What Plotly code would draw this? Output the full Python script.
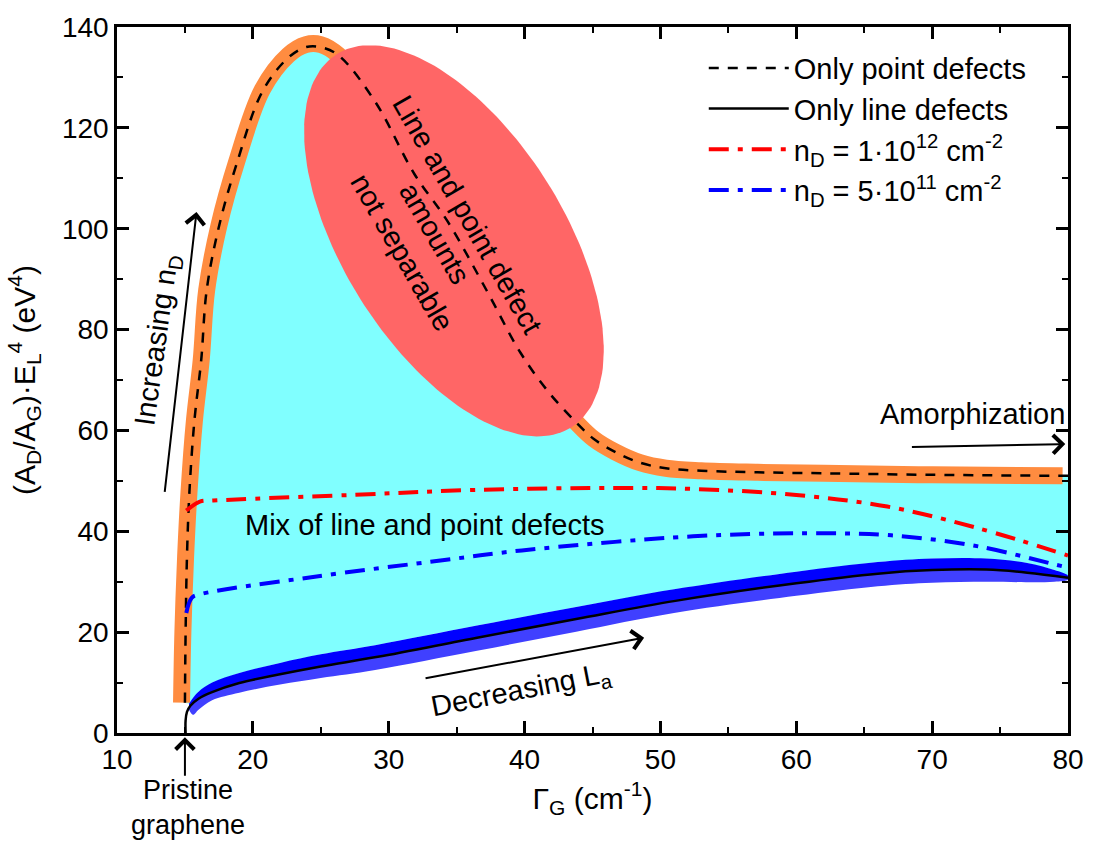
import numpy as np
import plotly.graph_objects as go

# ---------------- data ----------------
# Only point defects (dashed curve)
pt_x = [15.0, 15.05, 15.15, 15.33, 15.7, 16.2, 16.6, 17.5, 18.8, 20.7, 22.6, 23.9, 25.0, 26.3, 29.0,
        31.9, 34.3, 37.2, 39.7, 41.8, 43.8, 45.1, 46.7, 48.5, 50.4, 53.0, 57.0, 62.0, 70.0, 80.0]
pt_y = [6.0, 20.0, 35.0, 47.8, 62.0, 74.0, 87.8, 100.4, 112.8, 127.2, 133.9, 136.0, 136.0, 134.4, 125.2,
        110.8, 101.6, 87.8, 75.4, 67.5, 61.6, 58.3, 55.7, 53.6, 52.5, 52.0, 51.7, 51.5, 51.2, 51.0]

# orange uncertainty band of the point-defect curve
or_x = [14.75, 14.85, 15.05, 15.3, 15.7, 16.2, 16.6, 17.5, 18.8, 20.7, 22.6, 23.9, 25.0, 26.3, 29.0,
        31.9, 34.3, 37.2, 39.7, 41.8, 43.8, 45.1, 46.7, 48.5, 50.4, 53.0, 57.0, 62.0, 70.0, 79.6]
or_y = [6.0, 20.0, 35.0, 47.8, 62.0, 74.0, 87.8, 100.6, 113.2, 127.6, 134.4, 136.5, 136.5, 134.4, 125.2,
        110.8, 101.6, 87.8, 75.4, 67.5, 61.6, 58.3, 55.7, 53.6, 52.5, 52.0, 51.7, 51.5, 51.2, 51.0]

# Only line defects (solid curve)
ln_x = [15.05, 15.05, 15.15, 15.4, 16.0, 17.0, 19.0, 21.9, 25.0, 29.2, 36.5, 43.8, 51.1, 60.0, 66.0,
        70.0, 74.0, 77.0, 80.0]
ln_y = [0.0, 2.5, 4.2, 5.4, 6.8, 8.1, 9.9, 11.6, 13.2, 15.1, 18.9, 22.6, 26.2, 29.7, 31.6,
        32.3, 32.4, 31.8, 30.8]

# blue bands around the line-defect curve
bd_x = [15.3, 15.6, 16.0, 17.0, 19.0, 22.0, 25.0, 29.0, 36.5, 43.8, 51.0, 60.0, 66.0, 70.0, 74.0, 77.0, 79.0, 80.0]
bd_mid = [5.2, 6.0, 6.8, 8.1, 9.9, 11.7, 13.2, 15.0, 18.9, 22.6, 26.2, 29.7, 31.6, 32.3, 32.4, 31.8, 31.2, 30.8]
bd_up = [5.8, 7.0, 8.2, 10.0, 11.9, 13.9, 15.6, 17.4, 21.3, 25.0, 28.5, 32.0, 33.9, 34.6, 34.6, 33.7, 32.3, 31.2]
bd_lo = [4.6, 3.6, 4.6, 6.5, 8.0, 9.6, 10.9, 12.5, 16.3, 20.1, 23.8, 27.2, 29.1, 29.8, 30.0, 29.9, 30.0, 30.4]

# n_D = 1e12 cm^-2
r_x = [15.1, 16.1, 17.1, 27.2, 36.4, 46.5, 52.4, 60.0, 66.7, 73.4, 80.0]
r_y = [44.1, 45.9, 46.1, 47.2, 48.2, 48.6, 48.4, 47.2, 44.9, 40.6, 35.2]

# n_D = 5e11 cm^-2
b_x = [15.1, 15.5, 16.1, 24.3, 34.1, 39.8, 52.4, 60.8, 67.0, 73.4, 79.2, 80.0]
b_y = [23.8, 26.8, 27.5, 30.9, 34.3, 36.2, 39.0, 39.6, 39.2, 37.0, 33.3, 32.8]

# ellipse ("not separable" region): centre and conjugate semi-axes (data units)
ell_c = (34.8, 97.6)
ell_u = (8.63, -37.0)
ell_v = (-6.87, -11.63)

legend_names = ["Only point defects", "Only line defects",
                "n<sub>D</sub> = 1·10<sup>12</sup> cm<sup>-2</sup>",
                "n<sub>D</sub> = 5·10<sup>11</sup> cm<sup>-2</sup>"]

FONT = "Liberation Sans, Arial, sans-serif"
CYAN = "#80FFFF"
ORANGE = "#FF8C40"
RED_E = "#FF6666"

fig = go.Figure()

# cyan region between point-defect curve and line-defect band
cy_x = list(pt_x) + [80.0] + list(bd_x[::-1])
cy_y = list(pt_y) + [bd_up[-1]] + list(bd_up[::-1])
fig.add_trace(go.Scatter(x=cy_x, y=cy_y, fill="toself", fillcolor=CYAN, mode="lines",
                         line=dict(width=0, color=CYAN), showlegend=False, hoverinfo="skip"))

# orange band
fig.add_trace(go.Scatter(x=or_x, y=or_y, mode="lines", line=dict(color=ORANGE, width=17, shape="spline"),
                         showlegend=False, hoverinfo="skip"))

# ellipse
t = np.linspace(0, 2 * np.pi, 181)
ex = ell_c[0] + ell_u[0] * np.cos(t) + ell_v[0] * np.sin(t)
ey = ell_c[1] + ell_u[1] * np.cos(t) + ell_v[1] * np.sin(t)
fig.add_trace(go.Scatter(x=ex, y=ey, fill="toself", fillcolor=RED_E, mode="lines",
                         line=dict(width=0, color=RED_E), showlegend=False, hoverinfo="skip"))

# blue bands
fig.add_trace(go.Scatter(x=list(bd_x) + list(bd_x[::-1]), y=list(bd_mid) + list(bd_lo[::-1]),
                         fill="toself", fillcolor="#4040FF", mode="lines", line=dict(width=0, color="#4040FF", shape="spline"),
                         showlegend=False, hoverinfo="skip"))
fig.add_trace(go.Scatter(x=list(bd_x) + list(bd_x[::-1]), y=list(bd_up) + list(bd_mid[::-1]),
                         fill="toself", fillcolor="#0000FF", mode="lines", line=dict(width=0, color="#0000FF", shape="spline"),
                         showlegend=False, hoverinfo="skip"))

# curves
fig.add_trace(go.Scatter(x=ln_x, y=ln_y, mode="lines", name=legend_names[1], legendrank=2,
                         line=dict(color="black", width=2.5, shape="spline")))
fig.add_trace(go.Scatter(x=pt_x, y=pt_y, mode="lines", name=legend_names[0], legendrank=1,
                         line=dict(color="black", width=2.5, dash="10px,9px", shape="spline")))
fig.add_trace(go.Scatter(x=r_x, y=r_y, mode="lines", name=legend_names[2], legendrank=3,
                         line=dict(color="#FF0000", width=4, dash="20px,9px,5px,9px", shape="spline")))
fig.add_trace(go.Scatter(x=b_x, y=b_y, mode="lines", name=legend_names[3], legendrank=4,
                         line=dict(color="#0000FF", width=4, dash="20px,9px,5px,9px", shape="spline")))

ann_font = dict(family=FONT, size=29, color="black")
arrow = dict(showarrow=True, arrowhead=4, arrowsize=1.8, arrowwidth=2, arrowcolor="black")
annotations = [
    dict(x=33.4, y=99, xref="x", yref="y", text="Line and point defect<br>amounts<br>not separable",
         textangle=60, showarrow=False, font=ann_font),
    dict(x=32.6, y=41.3, xref="x", yref="y", text="Mix of line and point defects",
         showarrow=False, font=ann_font),
    dict(x=13.0, y=78, xref="x", yref="y", text="Increasing n<sub>D</sub>", textangle=-82,
         showarrow=False, font=ann_font),
    dict(x=15.85, y=103.3, ax=13.5, ay=47.5, xref="x", yref="y", axref="x", ayref="y", text="", **arrow),
    dict(x=39.8, y=8.3, xref="x", yref="y", text="Decreasing L<sub>a</sub>", textangle=-11,
         showarrow=False, font=ann_font),
    dict(x=48.8, y=18.9, ax=32.6, ay=10.8, xref="x", yref="y", axref="x", ayref="y", text="", **arrow),
    dict(x=73.0, y=63.2, xref="x", yref="y", text="Amorphization", showarrow=False, font=ann_font),
    dict(x=79.8, y=57.3, ax=68.4, ay=56.7, xref="x", yref="y", axref="x", ayref="y", text="", **arrow),
    dict(x=15.0, y=-0.006, ax=0, ay=40, xref="x", yref="paper", axref="pixel", ayref="pixel", text="", **arrow),
    dict(x=15.2, y=-0.105, xref="x", yref="paper", yanchor="middle", xanchor="center",
         text="Pristine<br>graphene", showarrow=False,
         font=dict(family=FONT, size=27, color="black")),
]

axis_common = dict(showline=True, linecolor="black", linewidth=2.5, mirror="allticks",
                   ticks="inside", ticklen=12, tickwidth=2.5, tickcolor="black",
                   showgrid=False, zeroline=False,
                   tickfont=dict(family=FONT, size=28, color="black"))

fig.update_layout(
    width=1096, height=842,
    margin=dict(l=117, r=21, t=22, b=109),
    paper_bgcolor="white", plot_bgcolor="white",
    font=dict(family=FONT, size=27, color="black"),
    xaxis=dict(range=[10, 80], dtick=10, tick0=10,
               minor=dict(dtick=5, ticks="inside", ticklen=6, tickwidth=2, tickcolor="black"),
               title=dict(text="Γ<sub>G</sub> (cm<sup>-1</sup>)", font=dict(family=FONT, size=30), standoff=14),
               **axis_common),
    yaxis=dict(range=[0, 140], dtick=20, tick0=0,
               minor=dict(dtick=10, ticks="inside", ticklen=6, tickwidth=2, tickcolor="black"),
               title=dict(text="(A<sub>D</sub>/A<sub>G</sub>)·E<sub>L</sub><sup>4</sup> (eV<sup>4</sup>)",
                          font=dict(family=FONT, size=30), standoff=18),
               **axis_common),
    legend=dict(x=0.617, y=0.978, xanchor="left", yanchor="top", bgcolor="rgba(0,0,0,0)",
                font=dict(family=FONT, size=29, color="black"), itemwidth=80, tracegroupgap=0),
    annotations=annotations,
    showlegend=True,
)

fig.write_html("out.html")
